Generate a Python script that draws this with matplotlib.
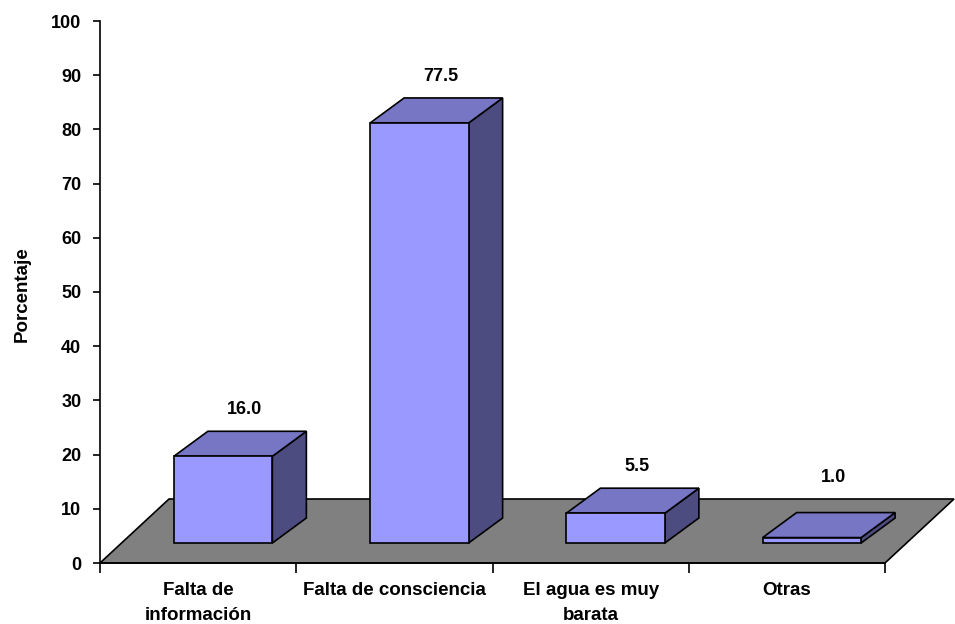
import matplotlib
matplotlib.use("Agg")
import matplotlib.pyplot as plt
from matplotlib.patches import Polygon

categories = ["Falta de\ninformación", "Falta de consciencia", "El agua es muy\nbarata", "Otras"]
values = [16.0, 77.5, 5.5, 1.0]
value_labels = ["16.0", "77.5", "5.5", "1.0"]
yticks = [0, 10, 20, 30, 40, 50, 60, 70, 80, 90, 100]

FRONT = "#9999FF"
TOP = "#7676C4"
SIDE = "#4C4C80"
FLOOR = "#808080"
FONT = "Liberation Sans"
FS = 13

W, H = 955, 624
fig = plt.figure(figsize=(W / 100, H / 100), dpi=100)
left_px, right_px, top_px, bot_px = 100, 885, 21, 563
ax = fig.add_axes([left_px / W, (H - bot_px) / H, (right_px - left_px) / W, (bot_px - top_px) / H])
ax.set_xlim(0, len(categories))
ax.set_ylim(0, 100)

pxx = (right_px - left_px) / len(categories)   # px per x unit
pxy = (bot_px - top_px) / 100.0                # px per y unit

# floor depth
fdx, fdy = 69 / pxx, 64 / pxy
floor = Polygon([(0, 0), (len(categories), 0), (len(categories) + fdx, fdy), (fdx, fdy)],
                closed=True, facecolor=FLOOR, edgecolor="black", linewidth=1.2,
                clip_on=False, zorder=1)
ax.add_patch(floor)

# bar geometry
off_x, off_y = 25 / pxx, 20 / pxy      # bar front placement on floor
bdx, bdy = 34 / pxx, 25 / pxy          # bar depth
bw = 98.5 / pxx

for i, v in enumerate(values):
    xc = i + 0.5 + off_x
    x0, x1 = xc - bw / 2, xc + bw / 2
    y0, y1 = off_y, off_y + v
    front = Polygon([(x0, y0), (x1, y0), (x1, y1), (x0, y1)], closed=True,
                    facecolor=FRONT, edgecolor="black", linewidth=1.2, clip_on=False, zorder=3)
    top = Polygon([(x0, y1), (x1, y1), (x1 + bdx, y1 + bdy), (x0 + bdx, y1 + bdy)], closed=True,
                  facecolor=TOP, edgecolor="black", linewidth=1.2, clip_on=False, zorder=3)
    side = Polygon([(x1, y0), (x1 + bdx, y0 + bdy), (x1 + bdx, y1 + bdy), (x1, y1)], closed=True,
                   facecolor=SIDE, edgecolor="black", linewidth=1.2, clip_on=False, zorder=3)
    for p in (side, top, front):
        ax.add_patch(p)
    ly = y0 + bdy + max(v, 3.4) + 4.0
    ax.text(xc + 0.11, ly, value_labels[i], ha="center", va="center",
            fontsize=FS, fontweight="bold", family=FONT, zorder=5)

ax.spines["top"].set_visible(False)
ax.spines["right"].set_visible(False)
ax.spines["left"].set_linewidth(1.2)
ax.spines["bottom"].set_linewidth(1.2)
ax.spines["bottom"].set_zorder(2)

ax.set_yticks(yticks)
ax.set_yticklabels([str(t) for t in yticks], fontsize=FS, fontweight="bold", family=FONT)
ax.tick_params(axis="y", direction="out", length=5, width=1.2, pad=8.5)

ax.set_xticks(range(len(categories) + 1))
ax.set_xticklabels([])
ax.tick_params(axis="x", which="major", direction="out", length=7, width=1.2)
ax.set_xticks([i + 0.5 for i in range(len(categories))], minor=True)
ax.set_xticklabels(categories, minor=True, fontsize=13.5, fontweight="bold",
                   family=FONT, linespacing=1.55, va="top")
ax.tick_params(axis="x", which="minor", length=0, pad=14)

fig.text(22 / W, 1 - 294 / H, "Porcentaje", rotation=90, ha="center", va="center",
         fontsize=13.5, fontweight="bold", family=FONT)
ax.patch.set_alpha(0)

fig.savefig("out.png", dpi=100)
